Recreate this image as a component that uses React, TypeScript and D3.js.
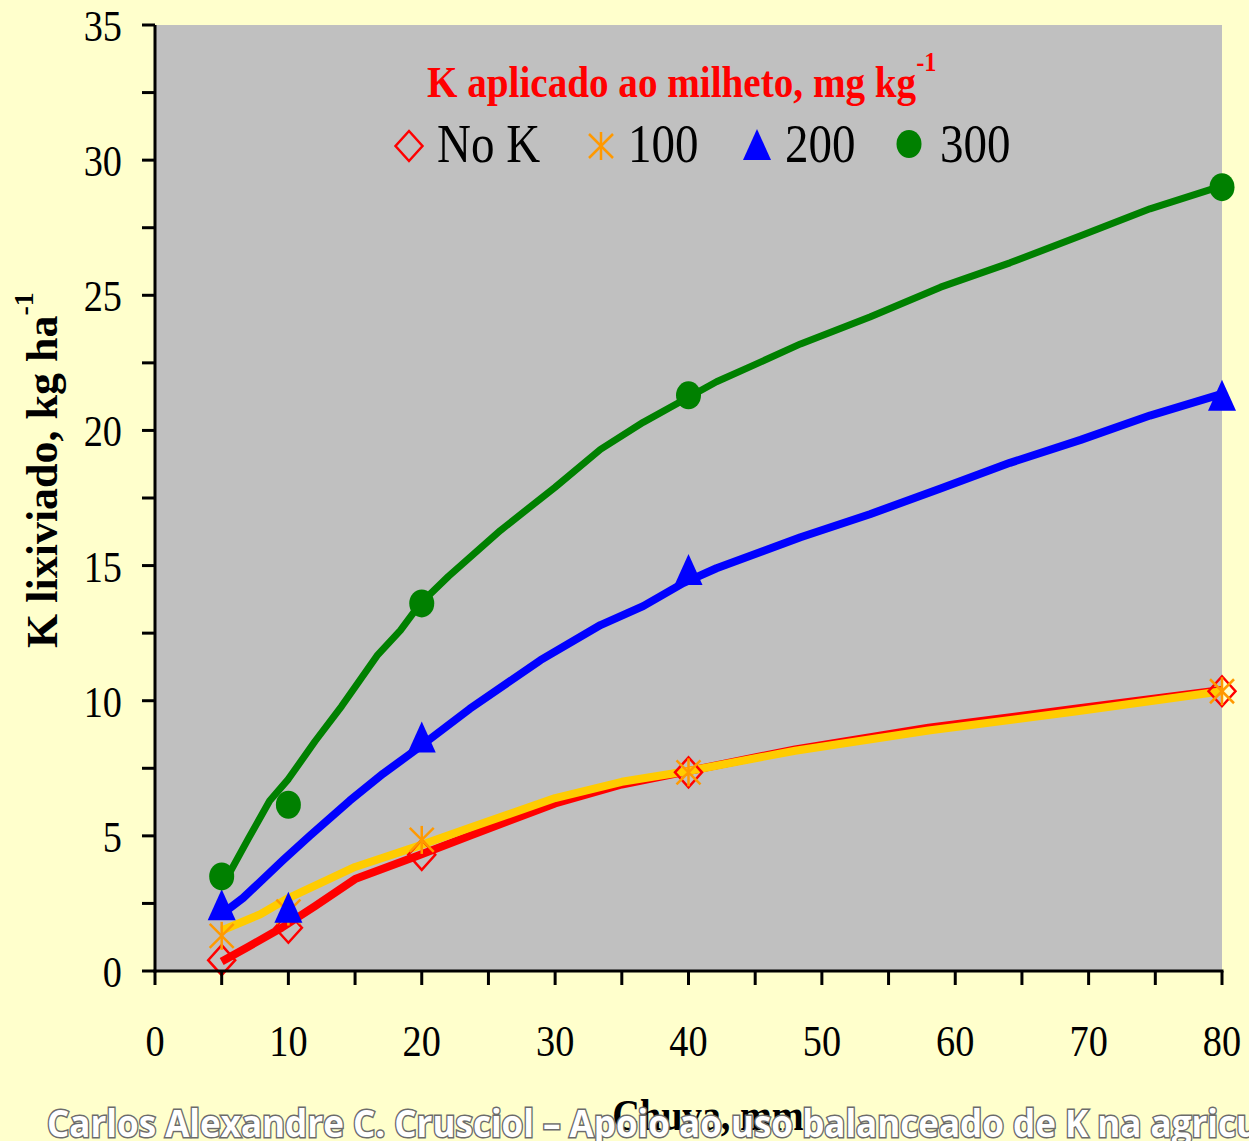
import React from 'react';
import * as d3 from 'd3';

// Rain (mm) at which leached K was measured
const rainX = [5, 10, 20, 40, 80];
// Observed leached K, kg/ha
const noK = [0.4, 1.6, 4.3, 7.35, 10.35];
const k100 = [1.3, 2.2, 4.85, 7.35, 10.35];
const k200 = [2.4, 2.3, 8.6, 14.8, 21.25];
const k300 = [3.5, 6.15, 13.6, 21.3, 29.0];

// Fitted curves
const fitNoKX = [5, 7, 9.5, 12, 15, 19.6, 23.6, 30, 35, 40, 48, 58, 69, 80];
const fitNoKY = [0.35, 0.9, 1.6, 2.4, 3.4, 4.25, 5.0, 6.2, 6.9, 7.4, 8.2, 9.0, 9.7, 10.4];
const fit100X = [5, 7.9, 10, 15, 19.6, 23.6, 30, 35, 40, 48, 58, 69, 80];
const fit100Y = [1.5, 2.1, 2.7, 3.85, 4.6, 5.3, 6.4, 7.0, 7.4, 8.15, 8.9, 9.6, 10.35];
const fit200X = [5, 6.6, 9.6, 11.6, 14.6, 17.1, 19.6, 23.6, 28.9, 33.4, 36.6, 39.6, 42.1, 48.4, 53.6, 58.9, 64.1, 69.4, 74.6, 80];
const fit200Y = [2.1, 2.7, 4.1, 5.0, 6.3, 7.3, 8.2, 9.7, 11.5, 12.8, 13.5, 14.35, 14.9, 16.05, 16.9, 17.85, 18.8, 19.65, 20.55, 21.35];
const fit300X = [5, 7, 8.6, 10, 12, 14, 15.2, 16.7, 18.4, 19.9, 22, 25.9, 30, 33.4, 36.6, 39.9, 42.1, 44.6, 48.4, 53.6, 58.9, 64.1, 69.4, 74.6, 80];
const fit300Y = [3.1, 4.9, 6.3, 7.1, 8.5, 9.8, 10.65, 11.7, 12.6, 13.6, 14.6, 16.3, 17.9, 19.3, 20.3, 21.2, 21.8, 22.35, 23.2, 24.2, 25.3, 26.2, 27.2, 28.2, 29.05];

const xTickVals = [0, 10, 20, 30, 40, 50, 60, 70, 80];
const yTickVals = [0, 5, 10, 15, 20, 25, 30, 35];

const legendLabels = ['No K', '100', '200', '300'];
const titleText = 'K aplicado ao milheto, mg kg';
const yTitle = 'K lixiviado, kg ha';
const xTitle = 'Chuva, mm';
const footer = 'Carlos Alexandre C. Crusciol – Apoio ao uso balanceado de K na agricu';

const W = 1249, H = 1141;
const SX = 0.87;
const serif = '"Liberation Serif", "Times New Roman", serif';

function ST({ x, y, sx = SX, anchor = 'start', children, ...rest }: any) {
  return (
    <g transform={`translate(${x},${y}) scale(${sx},1)`}>
      <text x={0} y={0} textAnchor={anchor} {...rest}>{children}</text>
    </g>
  );
}

const Diamond = ({ cx, cy }: any) => (
  <path d={`M${cx},${cy - 15}L${cx + 13.5},${cy}L${cx},${cy + 15}L${cx - 13.5},${cy}Z`} fill="none" stroke="#FF0000" strokeWidth={2.5} />
);
const Star = ({ cx, cy }: any) => (
  <g stroke="#FF9900" strokeWidth={2.5}>
    <line x1={cx - 12} y1={cy - 12} x2={cx + 12} y2={cy + 12} />
    <line x1={cx - 12} y1={cy + 12} x2={cx + 12} y2={cy - 12} />
    <line x1={cx} y1={cy - 14} x2={cx} y2={cy + 14} />
  </g>
);
const Tri = ({ cx, cy }: any) => (
  <path d={`M${cx},${cy - 17}L${cx + 14},${cy + 14}L${cx - 14},${cy + 14}Z`} fill="#0000FF" />
);
const Dot = ({ cx, cy }: any) => <ellipse cx={cx} cy={cy} rx={12.5} ry={14} fill="#008000" />;

export default function App() {
  const x = d3.scaleLinear().domain([0, 80]).range([155, 1222]);
  const y = d3.scaleLinear().domain([0, 35]).range([971, 25]);
  const line = d3.line<[number, number]>().x(d => x(d[0])).y(d => y(d[1]));
  const pts = (xs: number[], ys: number[]) => xs.map((v, i) => [v, ys[i]] as [number, number]);

  const xMinor = d3.range(0, 80.01, 5);
  const yMinor = d3.range(0, 35.01, 2.5);

  const legendX = [409, 601, 757, 909];
  const legendTextX = [437, 628, 785, 940];
  const legendY = 146;

  return (
    <svg width={W} height={H} style={{ position: 'absolute', left: 0, top: 0 }} xmlns="http://www.w3.org/2000/svg">
      <rect x={0} y={0} width={W} height={H} fill="#FFFFCC" />
      <rect x={x(0)} y={y(35)} width={x(80) - x(0)} height={y(0) - y(35)} fill="#C0C0C0" />

      {/* fitted lines */}
      <path d={line(pts(fitNoKX, fitNoKY)) || ''} fill="none" stroke="#FF0000" strokeWidth={8} strokeLinejoin="round" />
      <path d={line(pts(fit100X, fit100Y)) || ''} fill="none" stroke="#FFCC00" strokeWidth={8} strokeLinejoin="round" />
      <path d={line(pts(fit200X, fit200Y)) || ''} fill="none" stroke="#0000FF" strokeWidth={8} strokeLinejoin="round" />
      <path d={line(pts(fit300X, fit300Y)) || ''} fill="none" stroke="#008000" strokeWidth={7} strokeLinejoin="round" />

      {/* markers */}
      {rainX.map((v, i) => <Diamond key={'d' + i} cx={x(v)} cy={y(noK[i])} />)}
      {rainX.map((v, i) => <Star key={'s' + i} cx={x(v)} cy={y(k100[i])} />)}
      {rainX.map((v, i) => <Tri key={'t' + i} cx={x(v)} cy={y(k200[i])} />)}
      {rainX.map((v, i) => <Dot key={'c' + i} cx={x(v)} cy={y(k300[i])} />)}

      {/* axes */}
      <line x1={x(0)} y1={y(35)} x2={x(0)} y2={y(0) + 1.5} stroke="#000" strokeWidth={3} />
      <line x1={x(0) - 1.5} y1={y(0)} x2={x(80) + 1.5} y2={y(0)} stroke="#000" strokeWidth={3} />
      {yMinor.map(v => (
        <line key={'yt' + v} x1={x(0) - 13} y1={y(v)} x2={x(0)} y2={y(v)} stroke="#000" strokeWidth={3} />
      ))}
      {xMinor.map(v => (
        <line key={'xt' + v} x1={x(v)} y1={y(0)} x2={x(v)} y2={y(0) + 14} stroke="#000" strokeWidth={3} />
      ))}
      {yTickVals.map(v => (
        <ST key={'yl' + v} x={122} y={y(v) + 16} anchor="end" fontFamily={serif} fontSize={44} fill="#000">{v}</ST>
      ))}
      {xTickVals.map(v => (
        <ST key={'xl' + v} x={x(v)} y={1056} anchor="middle" fontFamily={serif} fontSize={44} fill="#000">{v}</ST>
      ))}

      {/* title */}
      <ST x={427} y={97} fontFamily={serif} fontSize={45} fontWeight="bold" fill="#FF0000">
        {titleText}
        <tspan dy={-26} fontSize={28}>-1</tspan>
      </ST>

      {/* legend */}
      <Diamond cx={legendX[0]} cy={legendY} />
      <Star cx={legendX[1]} cy={legendY} />
      <Tri cx={legendX[2]} cy={legendY} />
      <Dot cx={legendX[3]} cy={legendY - 2} />
      {legendLabels.map((l, i) => (
        <ST key={'lg' + i} x={legendTextX[i]} y={162} fontFamily={serif} fontSize={54} fill="#000">{l}</ST>
      ))}

      {/* y title */}
      <g transform="translate(57,648) rotate(-90)">
        <text x={0} y={0} fontFamily={serif} fontSize={44} fontWeight="bold" fill="#000">
          {yTitle}
          <tspan dy={-24} fontSize={28}>-1</tspan>
        </text>
      </g>

      {/* x title */}
      <ST x={708} y={1130} anchor="middle" fontFamily={serif} fontSize={44} fontWeight="bold" fill="#000">{xTitle}</ST>

      {/* footer */}
      <text x={47} y={1137} fontFamily='"Open Sans", sans-serif' fontWeight={700} fontSize={38}
        fill="#FFFFFF" stroke="#6b6b6b" strokeWidth={3} paintOrder="stroke"
        textLength={1212} lengthAdjust="spacingAndGlyphs">{footer}</text>
    </svg>
  );
}
